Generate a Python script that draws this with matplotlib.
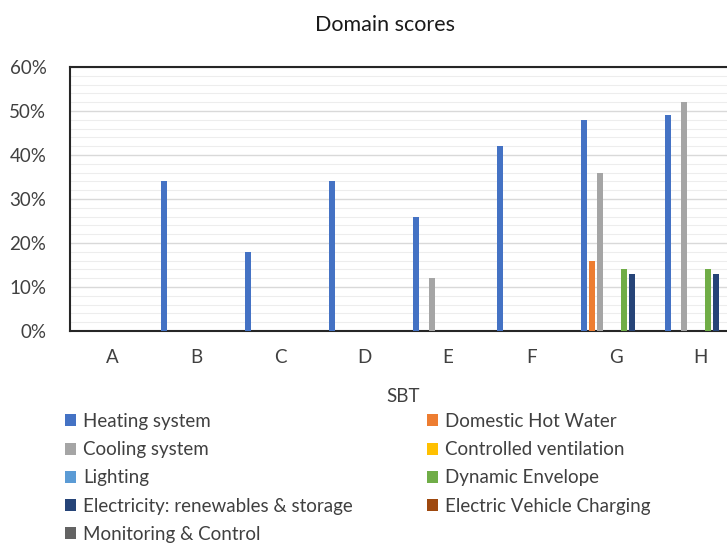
import numpy as np
import matplotlib
matplotlib.use("Agg")
import matplotlib.pyplot as plt
from matplotlib.ticker import MultipleLocator, PercentFormatter
from matplotlib.patches import Patch

plt.rcParams['font.family'] = ['Lato', 'DejaVu Sans']

categories = ['A', 'B', 'C', 'D', 'E', 'F', 'G', 'H']

heating = [0, 34, 18, 34, 26, 42, 48, 49]
hot_water = [0, 0, 0, 0, 0, 0, 16, 0]
cooling = [0, 0, 0, 0, 12, 0, 36, 52]
ventilation = [0, 0, 0, 0, 0, 0, 0, 0]
lighting = [0, 0, 0, 0, 0, 0, 0, 0]
envelope = [0, 0, 0, 0, 0, 0, 14, 14]
electricity = [0, 0, 0, 0, 0, 0, 13, 13]
ev_charging = [0, 0, 0, 0, 0, 0, 0, 0]
monitoring = [0, 0, 0, 0, 0, 0, 0, 0]

series = [
    ('Heating system', heating, '#4472C4'),
    ('Domestic Hot Water', hot_water, '#ED7D31'),
    ('Cooling system', cooling, '#A5A5A5'),
    ('Controlled ventilation', ventilation, '#FFC000'),
    ('Lighting', lighting, '#5B9BD5'),
    ('Dynamic Envelope', envelope, '#70AD47'),
    ('Electricity: renewables & storage', electricity, '#264478'),
    ('Electric Vehicle Charging', ev_charging, '#9E480E'),
    ('Monitoring & Control', monitoring, '#636363'),
]

fig = plt.figure(figsize=(7.27, 5.43), dpi=100)
ax = fig.add_axes([70 / 727, 1 - 331 / 543, 672 / 727, 264 / 543])

x = np.arange(len(categories))
slot = 0.0952
width = 0.07
n = len(series)
handles = []
for i, (name, vals, color) in enumerate(series):
    offs = (i - (n - 1) / 2) * slot
    ax.bar(x + offs, vals, width=width, color=color, zorder=3)
    handles.append(Patch(facecolor=color, label=name))

ax.set_xlim(-0.5, len(categories) - 0.5)
ax.set_ylim(0, 60)
ax.set_xticks(x)
ax.set_xticklabels(categories)
ax.yaxis.set_major_locator(MultipleLocator(10))
ax.yaxis.set_minor_locator(MultipleLocator(2))
ax.yaxis.set_major_formatter(PercentFormatter(decimals=0))
ax.grid(axis='y', which='major', color='#D9D9D9', linewidth=1.0, zorder=0)
ax.grid(axis='y', which='minor', color='#EDEDED', linewidth=0.8, zorder=0)
ax.tick_params(axis='both', which='both', length=0, labelsize=13.5, colors='#404040')
ax.tick_params(axis='y', pad=17)
ax.tick_params(axis='x', pad=13)
for s in ax.spines.values():
    s.set_color('#262626')
    s.set_linewidth(1.5)

fig.text(385 / 727, 1 - 25 / 543, 'Domain scores', ha='center', va='center',
         fontsize=15.5, color='#1a1a1a')
fig.text(403 / 727, 1 - 397 / 543, 'SBT', ha='center', va='center',
         fontsize=13.5, color='#404040')

# legend laid out row by row in two columns
left_col = handles[0::2]
right_col = handles[1::2]
leg_kw = dict(loc='upper left', frameon=False, fontsize=13.5, handlelength=0.6,
              handleheight=0.6, handletextpad=0.35, labelspacing=0.6,
              borderaxespad=0, borderpad=0, labelcolor='#404040')
fig.legend(handles=left_col, bbox_to_anchor=(65 / 727, 1 - 413 / 543), **leg_kw)
fig.legend(handles=right_col, bbox_to_anchor=(427 / 727, 1 - 413 / 543), **leg_kw)

fig.savefig('out.png', dpi=100)
